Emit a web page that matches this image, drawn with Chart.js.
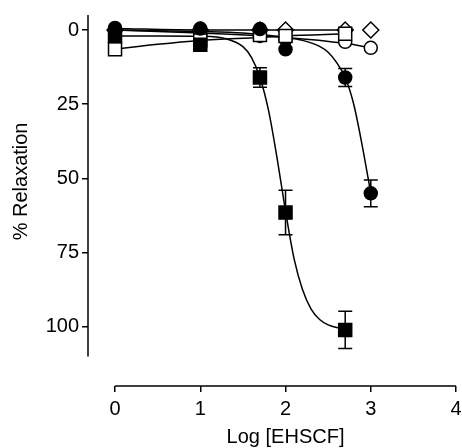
<!DOCTYPE html>
<html><head><meta charset="utf-8">
<script src="https://cdn.jsdelivr.net/npm/chart.js@4.4.0/dist/chart.umd.min.js"></script>
<style>html,body{margin:0;padding:0;background:#fff}</style>
</head><body>
<canvas id="c" width="462" height="448"></canvas>
<script>
// ---- data ----
const xTickValues = [0, 1, 2, 3, 4];
const yTickValues = [0, 25, 50, 75, 100];
const xTitle = 'Log [EHSCF]';
const yTitle = '% Relaxation';

const doseX = [0, 1, 1.7, 2, 2.7, 3];

const filledSquareY   = [2, 5, 16, 61.5, 101];
const filledSquareErr = [0, 0, 3.3, 7.5, 6.3];
const filledCircleY   = [-0.7, -0.5, -0.3, 6.5, 16, 55];
const filledCircleErr = [0, 0, 0, 0, 3, 4.5];
const openCircleY     = [0.5, 1.5, 2, 3, 4, 6];
const openSquareY     = [6.5, 3.5, 1.7, 2, 1.3];
const openDiamondY    = [0, 0, 0, 0, 0, 0];

// fitted curves
const curveSqX = [0, 0.5, 1, 1.3, 1.5, 1.6, 1.7, 1.8, 1.9, 2.0, 2.1, 2.2, 2.3, 2.4, 2.5, 2.6, 2.7];
const curveSqY = [2, 2, 2.1, 2.9, 5.6, 9.2, 16, 27, 43, 61, 77, 87.5, 94, 97.5, 99.3, 100.2, 100.6];
const curveCiX = [0, 1, 1.5, 2, 2.2, 2.4, 2.5, 2.6, 2.7, 2.8, 2.9, 3.0];
const curveCiY = [0, 0.5, 1, 2.5, 3.5, 5.5, 7.5, 11, 16, 25, 39, 55];
const curveOcX = [0, 1, 2, 2.7, 3];
const curveOcY = [0, 1, 2.5, 4.5, 6];
const curveOsX = [0, 0.5, 1, 1.7, 2, 2.7];
const curveOsY = [6.5, 4.8, 3.5, 2.5, 2, 1.3];
const curveDiX = [0, 1, 2, 2.7];
const curveDiY = [-0.5, 0, 0, 0];

// ---- helpers ----
const pts = (xs, ys) => ys.map((v, i) => ({x: xs[i], y: v}));
const FONT = {family: '"Liberation Sans", Arial, sans-serif', size: 20};

const errorSets = [
  {xs: doseX, ys: filledSquareY, es: filledSquareErr},
  {xs: doseX, ys: filledCircleY, es: filledCircleErr}
];

const customPlugin = {
  id: 'custom',
  beforeDatasetsDraw(chart) {
    const {ctx, chartArea, scales: {x, y}} = chart;
    ctx.save();
    ctx.strokeStyle = '#000';
    ctx.lineWidth = 1.5;
    // detached axis lines
    ctx.beginPath();
    ctx.moveTo(chartArea.left, y.getPixelForValue(y.min));
    ctx.lineTo(chartArea.left, y.getPixelForValue(110));
    ctx.moveTo(x.getPixelForValue(xTickValues[0]), chartArea.bottom);
    ctx.lineTo(x.getPixelForValue(xTickValues[xTickValues.length - 1]), chartArea.bottom);
    ctx.stroke();
    // error bars
    ctx.beginPath();
    errorSets.forEach(s => {
      s.ys.forEach((v, i) => {
        const e = s.es[i];
        if (!e) return;
        const px = x.getPixelForValue(s.xs[i]);
        const p1 = y.getPixelForValue(v - e);
        const p2 = y.getPixelForValue(v + e);
        ctx.moveTo(px, p1); ctx.lineTo(px, p2);
        ctx.moveTo(px - 7, p1); ctx.lineTo(px + 7, p1);
        ctx.moveTo(px - 7, p2); ctx.lineTo(px + 7, p2);
      });
    });
    ctx.stroke();
    ctx.restore();
  },
  afterDraw(chart) {
    const {ctx, chartArea, scales: {x, y}} = chart;
    ctx.save();
    ctx.fillStyle = '#000';
    ctx.font = FONT.size + 'px ' + FONT.family;
    ctx.textAlign = 'center';
    ctx.textBaseline = 'middle';
    // x title, centred under the axis line
    ctx.fillText(xTitle, x.getPixelForValue(2), chartArea.bottom + 51);
    // y title
    ctx.translate(21, y.getPixelForValue(51));
    ctx.rotate(-Math.PI / 2);
    ctx.fillText(yTitle, 0, 0);
    ctx.restore();
  }
};

const marker = (data, style, filled, r) => ({
  data, showLine: false, pointStyle: style, pointRadius: r, pointHoverRadius: r,
  pointBackgroundColor: filled ? '#000' : '#fff', pointBorderColor: '#000', pointBorderWidth: 1.5
});
const curve = (data) => ({
  data, showLine: true, pointRadius: 0, borderColor: '#000', borderWidth: 1.5,
  cubicInterpolationMode: 'monotone', fill: false
});

new Chart(document.getElementById('c'), {
  type: 'scatter',
  data: {
    datasets: [
      marker(pts(doseX, filledSquareY), 'rect', true, 9.2),
      marker(pts(doseX, filledCircleY), 'circle', true, 6.5),
      marker(pts(doseX, openSquareY), 'rect', false, 9.2),
      marker(pts(doseX, openCircleY), 'circle', false, 6.5),
      marker(pts(doseX, openDiamondY), 'rectRot', false, 8),
      curve(pts(curveSqX, curveSqY)),
      curve(pts(curveCiX, curveCiY)),
      curve(pts(curveOcX, curveOcY)),
      curve(pts(curveOsX, curveOsY)),
      curve(pts(curveDiX, curveDiY))
    ]
  },
  options: {
    responsive: false,
    animation: false,
    events: [],
    layout: {autoPadding: false, padding: {top: 15, right: 0, left: 0, bottom: 0}},
    plugins: {legend: {display: false}, tooltip: {enabled: false}},
    scales: {
      x: {
        type: 'linear', position: 'bottom', min: -0.317, max: 4.07,
        afterBuildTicks: s => { s.ticks = xTickValues.map(v => ({value: v})); },
        afterFit: s => { s.height = 62; s.paddingLeft = 0; s.paddingRight = 0; },
        grid: {drawOnChartArea: false, drawTicks: true, tickLength: 6, color: '#000', lineWidth: 1.5},
        border: {display: false},
        ticks: {font: FONT, color: '#000', padding: 5, maxRotation: 0, autoSkip: false}
      },
      y: {
        type: 'linear', position: 'left', reverse: true, min: -5.05, max: 119.9,
        afterBuildTicks: s => { s.ticks = yTickValues.map(v => ({value: v})); },
        afterFit: s => { s.width = 88; s.paddingTop = 0; s.paddingBottom = 0; },
        grid: {drawOnChartArea: false, drawTicks: true, tickLength: 6, color: '#000', lineWidth: 1.5},
        border: {display: false},
        ticks: {font: FONT, color: '#000', padding: 3, autoSkip: false}
      }
    }
  },
  plugins: [customPlugin]
});
</script>
</body></html>
